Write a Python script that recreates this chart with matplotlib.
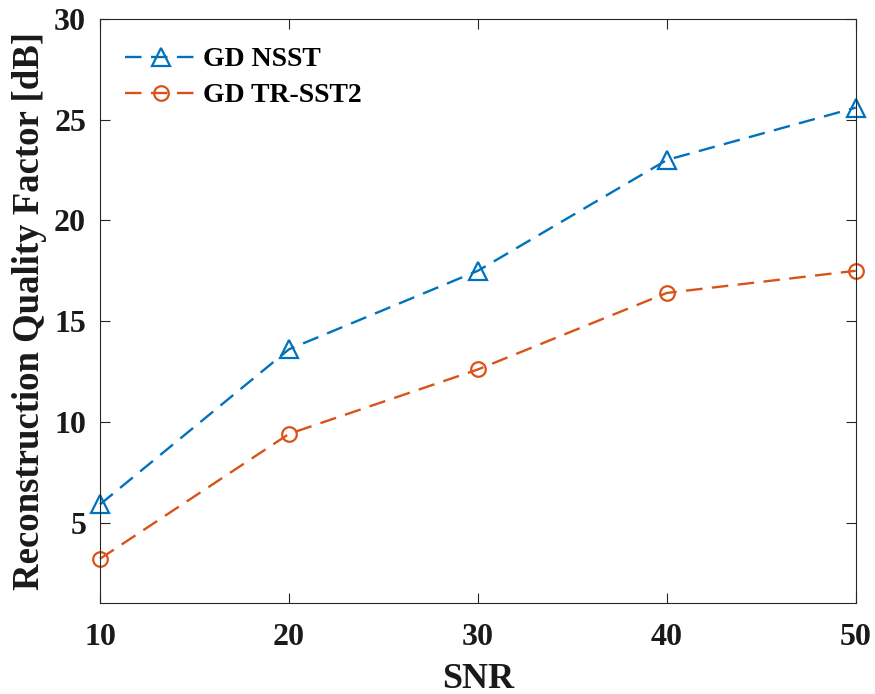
import matplotlib.pyplot as plt

plt.rcParams['font.family'] = ['Liberation Serif', 'DejaVu Serif']
plt.rcParams['font.weight'] = 'bold'

snr = [10, 20, 30, 40, 50]
gd_nsst = [5.9, 13.6, 17.5, 23.0, 25.6]
gd_trsst2 = [3.2, 9.4, 12.6, 16.4, 17.5]

fig = plt.figure(figsize=(8.75, 6.94), dpi=100)
ax = fig.add_axes([0.1143, 0.131, 0.8637, 0.8416])

ax.plot(snr, gd_nsst, linestyle=(0, (7, 4)), color='#0072BD', linewidth=1.7,
        marker='^', markersize=12.5, markerfacecolor='none', markeredgewidth=1.6,
        clip_on=False, label='GD NSST')
ax.plot(snr, gd_trsst2, linestyle=(0, (7, 4)), color='#D95319', linewidth=1.7,
        marker='o', markersize=10.5, markerfacecolor='none', markeredgewidth=1.6,
        clip_on=False, label='GD TR-SST2')

ax.set_xlim(10, 50)
ax.set_ylim(1, 30)
ax.set_xticks([10, 20, 30, 40, 50])
ax.set_yticks([5, 10, 15, 20, 25, 30])
ax.tick_params(direction='in', length=7, width=0.8, top=True, right=True,
               labelsize=23, colors='#262626')
ax.tick_params(axis='x', pad=14)
ax.tick_params(axis='y', pad=10)
for lab in ax.get_xticklabels() + ax.get_yticklabels():
    lab.set_color('#1a1a1a')
for sp in ax.spines.values():
    sp.set_color('#262626')
    sp.set_linewidth(0.8)

ax.set_xlabel('SNR', fontsize=26, fontweight='bold', color='#1a1a1a', labelpad=8)
ax.set_ylabel('Reconstruction Quality Factor [dB]', fontsize=26.5,
              fontweight='bold', color='#1a1a1a', labelpad=5)

ax.legend(loc='upper left', frameon=False, fontsize=20, handlelength=2.6,
          handletextpad=0.2, borderaxespad=0.5, labelspacing=0.38,
          bbox_to_anchor=(0.0, 0.995))

fig.savefig('out.png', dpi=100)
